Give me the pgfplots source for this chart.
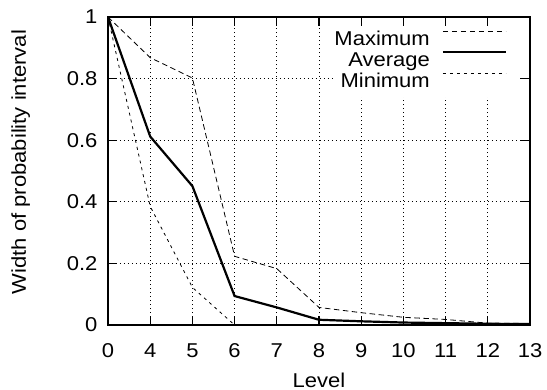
\documentclass[border=0pt]{standalone}
\usepackage{fontspec}
\setmainfont{Liberation Sans}[FakeStretch=1.1]
\usepackage{pgfplots}
\pgfplotsset{compat=1.18}

\pgfplotstableread{
x max avg min
0 1.000 1.000 1.000
1 0.868 0.612 0.385
2 0.802 0.451 0.122
3 0.223 0.094 0.000
4 0.183 0.057 0.000
5 0.057 0.017 0.000
6 0.040 0.012 0.000
7 0.025 0.008 0.000
8 0.018 0.006 0.000
9 0.006 0.004 0.000
10 0.005 0.003 0.000
}\datatable

\begin{document}
\begin{tikzpicture}
\begin{axis}[
  scale only axis, width=422bp, height=308bp,
  xmin=0, xmax=10, ymin=0, ymax=1,
  xtick={0,...,10}, xticklabels={0,4,5,6,7,8,9,10,11,12,13},
  ytick={0,0.2,0.4,0.6,0.8,1},
  yticklabels={0,0.2,0.4,0.6,0.8,1},
  /pgf/number format/assume math mode=true,
  tick align=inside, major tick length=9bp,
  tick style={line width=1.3bp, black},
  axis line style={line width=1.3bp},
  grid=major, grid style={dash pattern=on 1.1bp off 2.9bp, line width=0.8bp, black},
  font=\fontsize{20bp}{24bp}\selectfont,
  yticklabel style={xshift=-7bp},
  xticklabel style={anchor=base, yshift=-32bp},
  xlabel=Level, ylabel=Width of probability interval,
  xlabel style={at={(axis description cs:0.5,-0.2013)}, anchor=base},
  ylabel style={at={(axis description cs:-0.207,0.529)}, anchor=center, rotate=0},
  legend cell align=right,
  legend plot pos=right,
  legend image code/.code={\path[draw=none,fill=none] (0bp,0bp) -- (89bp,0bp);\draw[#1] (12bp,9.5bp) -- (75bp,9.5bp);},
  legend style={draw=none, fill=white, at={(1,1)}, xshift=-10bp, yshift=-9bp, anchor=north east,
    inner xsep=0bp, inner ysep=4bp, row sep=0pt, column sep=0pt,
    nodes={inner sep=1bp, text height=14.5bp, text depth=4.5bp}},
]
\addplot[black, line width=0.8bp, dash pattern=on 5.5bp off 3.5bp] table[x=x,y=max]{\datatable};
\addlegendentry{Maximum}
\addplot[black, line width=2.2bp] table[x=x,y=avg]{\datatable};
\addlegendentry{Average}
\addplot[black, line width=0.8bp, dash pattern=on 3bp off 4bp] table[x=x,y=min]{\datatable};
\addlegendentry{Minimum}
\end{axis}
\pgfresetboundingbox
\path[use as bounding box] ([shift={(-108bp,-65bp)}]current axis.south west) rectangle ([shift={(17bp,17bp)}]current axis.north east);
\end{tikzpicture}
\end{document}
